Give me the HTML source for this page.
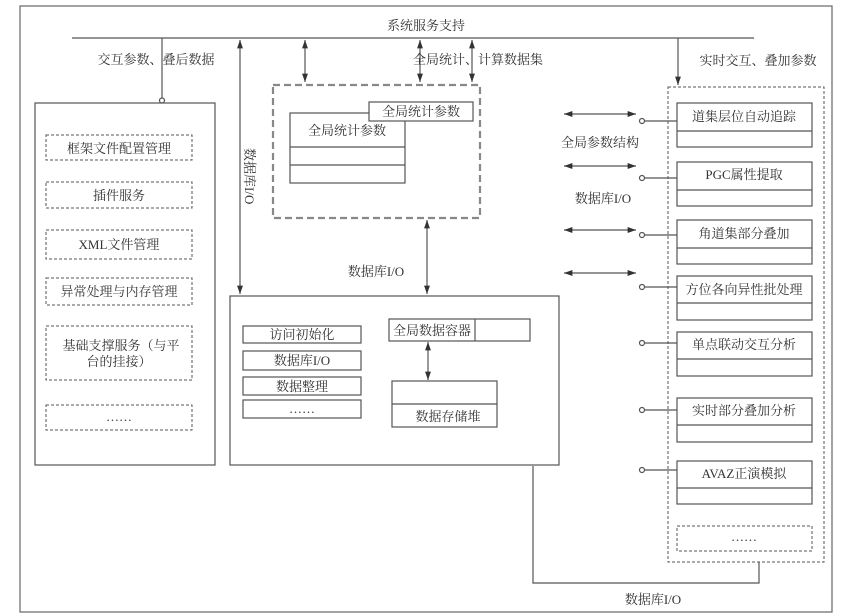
<!DOCTYPE html>
<html><head><meta charset="utf-8"><style>
html,body{margin:0;padding:0;background:#fff;}
svg{display:block;}
text{font-family:"Liberation Serif","Noto Serif CJK SC","Noto Sans CJK SC",serif;font-size:13px;fill:#333;}
</style></head><body>
<svg width="845" height="616" viewBox="0 0 845 616" xmlns="http://www.w3.org/2000/svg">
<defs>
<marker id="a" viewBox="0 0 10 10" refX="10" refY="5" markerWidth="7" markerHeight="7" orient="auto-start-reverse"><path d="M0,1.5 L10,5 L0,8.5 z" fill="#333"/></marker>
</defs>
<g fill="none" stroke="#555" stroke-width="1.2">
<!-- outer frame -->
<rect x="20" y="6" width="812" height="606" stroke="#666"/>
<!-- bus -->
<line x1="72" y1="38" x2="754" y2="38"/>
<line x1="162" y1="38" x2="162" y2="98"/>
<circle cx="162" cy="100.5" r="2.5" fill="#fff"/>
<!-- left box -->
<rect x="35" y="103" width="180" height="362"/>
<g stroke-dasharray="3,2" stroke-width="1">
<rect x="46" y="135" width="146" height="25"/>
<rect x="46" y="182" width="146" height="26"/>
<rect x="46" y="230" width="146" height="29"/>
<rect x="46" y="278" width="146" height="27"/>
<rect x="46" y="326" width="146" height="54"/>
<rect x="46" y="405" width="146" height="25"/>
</g>
<!-- vertical arrows from bus -->
<line x1="240" y1="40" x2="240" y2="294" marker-start="url(#a)" marker-end="url(#a)"/>
<line x1="305" y1="40" x2="305" y2="82" marker-start="url(#a)" marker-end="url(#a)"/>
<line x1="420" y1="40" x2="420" y2="82" marker-start="url(#a)" marker-end="url(#a)"/>
<line x1="472" y1="40" x2="472" y2="82" marker-start="url(#a)" marker-end="url(#a)"/>
<line x1="678" y1="38" x2="678" y2="85" marker-end="url(#a)"/>
<!-- dashed gray box -->
<rect x="273" y="85" width="207" height="133" stroke="#888" stroke-width="2.2" stroke-dasharray="7,4"/>
<rect x="290" y="113" width="115" height="70"/>
<line x1="290" y1="147" x2="405" y2="147"/>
<line x1="290" y1="165" x2="405" y2="165"/>
<rect x="369" y="102" width="104" height="19" fill="#fff"/>
<line x1="427" y1="220" x2="427" y2="294" marker-start="url(#a)" marker-end="url(#a)"/>
<!-- middle box -->
<rect x="230" y="296" width="329" height="169"/>
<rect x="243" y="326" width="118" height="17"/>
<rect x="243" y="351" width="118" height="19"/>
<rect x="243" y="377" width="118" height="18"/>
<rect x="243" y="400" width="118" height="18"/>
<rect x="389" y="319" width="141" height="22"/>
<line x1="475" y1="319" x2="475" y2="341"/>
<line x1="428" y1="342" x2="428" y2="380" marker-start="url(#a)" marker-end="url(#a)"/>
<rect x="392" y="381" width="105" height="46"/>
<line x1="392" y1="404" x2="497" y2="404"/>
<!-- bottom connector -->
<polyline points="533,466 533,583 759,583 759,562"/>
<!-- right dashed box -->
<rect x="668" y="87" width="156" height="475" stroke-dasharray="3,2" stroke-width="1"/>
<g>
<rect x="677" y="103" width="135" height="44"/><line x1="677" y1="131" x2="812" y2="131"/>
<rect x="677" y="162" width="135" height="44"/><line x1="677" y1="190" x2="812" y2="190"/>
<rect x="677" y="220" width="135" height="44"/><line x1="677" y1="248" x2="812" y2="248"/>
<rect x="677" y="276" width="135" height="44"/><line x1="677" y1="303" x2="812" y2="303"/>
<rect x="677" y="332" width="135" height="44"/><line x1="677" y1="359" x2="812" y2="359"/>
<rect x="677" y="398" width="135" height="44"/><line x1="677" y1="425" x2="812" y2="425"/>
<rect x="677" y="461" width="135" height="43"/><line x1="677" y1="488" x2="812" y2="488"/>
<rect x="677" y="526" width="135" height="25" stroke-dasharray="3,2" stroke-width="1"/>
</g>
<g>
<line x1="645" y1="121" x2="677" y2="121"/><circle cx="642" cy="121" r="2.5" fill="#fff"/>
<line x1="645" y1="178" x2="677" y2="178"/><circle cx="642" cy="178" r="2.5" fill="#fff"/>
<line x1="645" y1="235" x2="677" y2="235"/><circle cx="642" cy="235" r="2.5" fill="#fff"/>
<line x1="645" y1="287" x2="677" y2="287"/><circle cx="642" cy="287" r="2.5" fill="#fff"/>
<line x1="645" y1="343" x2="677" y2="343"/><circle cx="642" cy="343" r="2.5" fill="#fff"/>
<line x1="645" y1="410" x2="677" y2="410"/><circle cx="642" cy="410" r="2.5" fill="#fff"/>
<line x1="645" y1="470" x2="677" y2="470"/><circle cx="642" cy="470" r="2.5" fill="#fff"/>
</g>
<line x1="564" y1="114" x2="636" y2="114" marker-start="url(#a)" marker-end="url(#a)"/>
<line x1="564" y1="166" x2="636" y2="166" marker-start="url(#a)" marker-end="url(#a)"/>
<line x1="564" y1="230" x2="636" y2="230" marker-start="url(#a)" marker-end="url(#a)"/>
<line x1="564" y1="273" x2="636" y2="273" marker-start="url(#a)" marker-end="url(#a)"/>
</g>
<!-- text -->
<text x="426" y="30" text-anchor="middle">系统服务支持</text>
<text x="156" y="64" text-anchor="middle">交互参数、叠后数据</text>
<text x="478" y="64" text-anchor="middle">全局统计、计算数据集</text>
<text x="758" y="65" text-anchor="middle">实时交互、叠加参数</text>
<text x="119" y="153" text-anchor="middle">框架文件配置管理</text>
<text x="119" y="200" text-anchor="middle">插件服务</text>
<text x="119" y="249" text-anchor="middle">XML文件管理</text>
<text x="119" y="296" text-anchor="middle">异常处理与内存管理</text>
<text x="121" y="350" text-anchor="middle">基础支撑服务（与平</text>
<text x="119" y="366" text-anchor="middle">台的挂接）</text>
<text x="119" y="421" text-anchor="middle">……</text>
<text x="0" y="0" transform="translate(245,148) rotate(90)">数据库I/O</text>
<text x="421" y="116" text-anchor="middle">全局统计参数</text>
<text x="347" y="135" text-anchor="middle">全局统计参数</text>
<text x="376" y="276" text-anchor="middle">数据库I/O</text>
<text x="302" y="339" text-anchor="middle">访问初始化</text>
<text x="302" y="365" text-anchor="middle">数据库I/O</text>
<text x="302" y="391" text-anchor="middle">数据整理</text>
<text x="302" y="413" text-anchor="middle">……</text>
<text x="432" y="335" text-anchor="middle">全局数据容器</text>
<text x="448" y="421" text-anchor="middle">数据存储堆</text>
<text x="600" y="147" text-anchor="middle">全局参数结构</text>
<text x="603" y="203" text-anchor="middle">数据库I/O</text>
<text x="744" y="121" text-anchor="middle">道集层位自动追踪</text>
<text x="744" y="179" text-anchor="middle">PGC属性提取</text>
<text x="744" y="238" text-anchor="middle">角道集部分叠加</text>
<text x="744" y="294" text-anchor="middle">方位各向异性批处理</text>
<text x="744" y="349" text-anchor="middle">单点联动交互分析</text>
<text x="744" y="415" text-anchor="middle">实时部分叠加分析</text>
<text x="744" y="478" text-anchor="middle">AVAZ正演模拟</text>
<text x="744" y="541" text-anchor="middle">……</text>
<text x="653" y="604" text-anchor="middle">数据库I/O</text>
</svg>
</body></html>
